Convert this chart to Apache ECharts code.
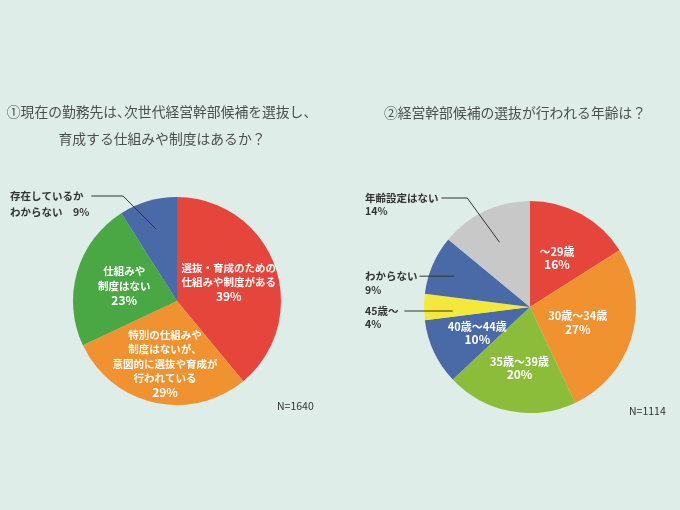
<!DOCTYPE html>
<html><head><meta charset="utf-8">
<script src="https://cdn.jsdelivr.net/npm/echarts@6/dist/echarts.min.js"></script>
<style>html,body{margin:0;padding:0;background:#deede8}#c{width:680px;height:510px}</style>
</head><body><div id="c"></div>
<script>
// ---- data ----
const leftNames = ['選抜・育成のための\n仕組みや制度がある', '特別の仕組みや\n制度はないが、\n意図的に選抜や育成が\n行われている', '仕組みや\n制度はない', '存在しているか\nわからない'];
const leftValues = [39, 29, 23, 9];
const rightNames = ['～29歳', '30歳～34歳', '35歳～39歳', '40歳～44歳', '45歳～', 'わからない', '年齢設定はない'];
const rightValues = [16, 27, 20, 10, 4, 9, 14];
const titles = ['①現在の勤務先は､次世代経営幹部候補を選抜し、\n育成する仕組みや制度はあるか？', '②経営幹部候補の選抜が行われる年齢は？'];
const sampleSizes = ['N=1640', 'N=1114'];

// ---- styles / layout ----
const FONT = '"Noto Sans CJK JP", "Noto Sans", sans-serif';
const leftColors = ['#e6453c', '#f0922f', '#4aa844', '#4a69a7'];
const rightColors = ['#e6453c', '#f0922f', '#8bbd3b', '#4a69a7', '#f4e83b', '#4a69a7', '#c8c8c8'];
const C1 = [177, 301], R1 = 104;
const C2 = [530, 307], R2 = 106;
const leftOutside = [3];
const rightOutside = [4, 5, 6];

function inner(center, edge, k) {
  return [center[0] + (edge[0] - center[0]) * k, center[1] + (edge[1] - center[1]) * k];
}

const chart = echarts.init(document.getElementById('c'));

function mainData(names, values, colors, outside) {
  return values.map((v, i) => {
    const d = { value: v, name: names[i], itemStyle: { color: colors[i] } };
    if (outside.includes(i)) d.label = { show: false };
    return d;
  });
}
function overlayData(names, values, outside, fmt) {
  return values.map((v, i) => {
    const d = { value: v, name: names[i] };
    if (outside.includes(i)) {
      d.label = { show: true };
      if (fmt) d.label.formatter = fmt;
      d.labelLine = { show: true };
    }
    return d;
  });
}

const insideLabel = (fs, lh, pfs) => ({
  position: 'inside', color: '#fff', fontSize: fs, lineHeight: lh, fontWeight: 'bold', fontFamily: FONT,
  formatter: '{b}\n{p|{c}%}',
  rich: { p: { fontSize: pfs, lineHeight: lh, fontWeight: 'bold', fontFamily: FONT, color: '#fff' } }
});
const outsideLabel = (lh) => ({
  show: false, position: 'outside', color: '#333', fontSize: 10.5, lineHeight: lh, fontWeight: 'bold', fontFamily: FONT,
  formatter: '{b}\n{c}%'
});

chart.setOption({
  backgroundColor: '#deede8',
  animation: false,
  graphic: [
    { type: 'text', x: 162, y: 98.5, style: { text: titles[0], textAlign: 'center', textVerticalAlign: 'top', fill: '#4d4d4d', font: '13.8px ' + FONT, lineHeight: 27 } },
    { type: 'text', x: 515, y: 113, style: { text: titles[1], textAlign: 'center', textVerticalAlign: 'middle', fill: '#4d4d4d', font: '13.8px ' + FONT } },
    { type: 'text', x: 277, y: 406, style: { text: sampleSizes[0], textAlign: 'left', textVerticalAlign: 'middle', fill: '#333', font: '10.5px ' + FONT } },
    { type: 'text', x: 629, y: 411, style: { text: sampleSizes[1], textAlign: 'left', textVerticalAlign: 'middle', fill: '#333', font: '10.5px ' + FONT } }
  ],
  series: [
    {
      type: 'pie', center: C1, radius: R1, startAngle: 90, clockwise: true,
      avoidLabelOverlap: false, silent: true,
      data: mainData(leftNames, leftValues, leftColors, leftOutside),
      label: insideLabel(10.5, 14.5, 12),
      labelLine: { show: false },
      labelLayout: function (p) {
        if (p.dataIndex === 1) return { dy: 9 };
        return {};
      }
    },
    {
      type: 'pie', center: C2, radius: R2, startAngle: 90, clockwise: true,
      avoidLabelOverlap: false, silent: true,
      data: mainData(rightNames, rightValues, rightColors, rightOutside),
      label: insideLabel(11, 13, 12),
      labelLine: { show: false },
      labelLayout: function (p) {
        if (p.dataIndex === 1) return { dx: -6 };
        if (p.dataIndex === 2) return { dy: 6 };
        if (p.dataIndex === 3) return { dx: -2, dy: 2 };
        return {};
      }
    },
    {
      type: 'pie', center: C1, radius: R1, startAngle: 90, clockwise: true, z: 5,
      avoidLabelOverlap: false, silent: true,
      itemStyle: { color: 'rgba(0,0,0,0)' },
      data: overlayData(leftNames, leftValues, leftOutside, '{b}　{c}%'),
      label: outsideLabel(16),
      labelLine: { show: false, lineStyle: { color: '#333', width: 1 } },
      labelLayout: function (p) {
        if (!p.labelLinePoints) return {};
        const s = inner(C1, p.labelLinePoints[0], 0.72);
        const lx = 10, ly = 188, yl = ly + 8;
        const p1 = [s[0] - (s[1] - yl), yl];
        const p2 = [lx + p.labelRect.width + 2, yl];
        return { x: lx, y: ly, align: 'left', verticalAlign: 'top', labelLinePoints: [s, p1, p2] };
      }
    },
    {
      type: 'pie', center: C2, radius: R2, startAngle: 90, clockwise: true, z: 5,
      avoidLabelOverlap: false, silent: true,
      itemStyle: { color: 'rgba(0,0,0,0)' },
      data: overlayData(rightNames, rightValues, rightOutside),
      label: outsideLabel(13.5),
      labelLine: { show: false, lineStyle: { color: '#333', width: 1 } },
      labelLayout: function (p) {
        if (!p.labelLinePoints) return {};
        const lx = 365;
        if (p.dataIndex === 6) {
          const s = inner(C2, p.labelLinePoints[0], 0.675);
          const yl = 198;
          const p1 = [s[0] - (s[1] - yl) * 0.73, yl];
          const p2 = [lx + p.labelRect.width + 3, yl];
          return { x: lx, y: yl - 6.75, align: 'left', verticalAlign: 'top', labelLinePoints: [s, p1, p2] };
        }
        if (p.dataIndex === 5) {
          const s = inner(C2, p.labelLinePoints[0], 0.78);
          const yl = s[1] + 2;
          const p0 = [s[0], yl];
          const p2 = [lx + p.labelRect.width + 2, yl];
          return { x: lx, y: yl - 6.75, align: 'left', verticalAlign: 'top', labelLinePoints: [p0, p2, p2] };
        }
        if (p.dataIndex === 4) {
          const s = inner(C2, p.labelLinePoints[0], 0.73);
          const yl = s[1] + 4;
          const p0 = [s[0], yl];
          const p2 = [lx + p.labelRect.width + 6, yl];
          return { x: lx, y: yl - 6.75, align: 'left', verticalAlign: 'top', labelLinePoints: [p0, p2, p2] };
        }
        return {};
      }
    }
  ]
});
</script></body></html>
